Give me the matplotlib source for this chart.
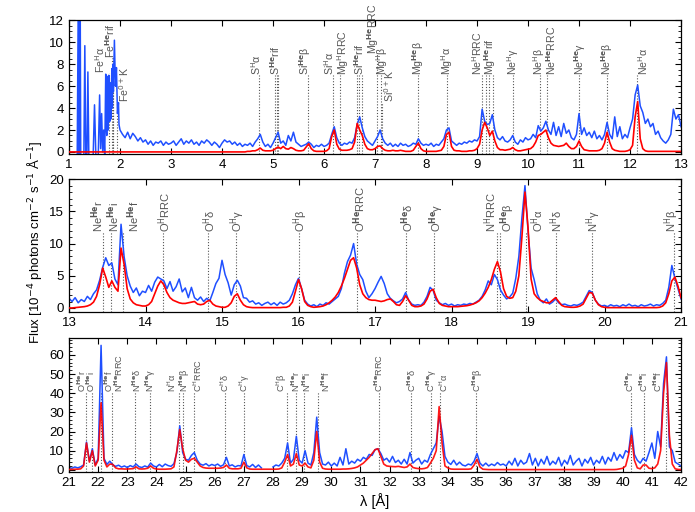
import numpy as np
import matplotlib
matplotlib.use('Agg')
import matplotlib.pyplot as plt
from matplotlib.ticker import MultipleLocator

plt.rcParams['font.family'] = ['Liberation Sans', 'DejaVu Sans']

# ---------------- panel 1 : 1 - 13 A ----------------
# Fe K region of the observed spectrum (irregular sampling)
fe_wave = [1.16, 1.18, 1.19, 1.21, 1.22, 1.23, 1.29, 1.31, 1.33, 1.35, 1.37, 1.39,
           1.47, 1.50, 1.53, 1.57, 1.60, 1.62, 1.64, 1.66, 1.68, 1.70, 1.72, 1.73,
           1.74, 1.76, 1.77, 1.78, 1.80, 1.81, 1.82, 1.84, 1.85, 1.86, 1.87, 1.89,
           1.91, 1.93, 1.95, 1.97, 1.98]
fe_flux = [-1, 13, -1, -1, 13, -1, -1, 9.7, -1, -1, 7.3, -1,
           -1, 4.3, -1, -1, 5.2, 0.3, 3.5, 0.0, 2.0, -0.5, 7.1, 2.5,
           1.5, 6.9, 2.0, 7.0, 2.8, 6.3, 3.0, 7.6, 4.0, 8.0, 5.5, 10.2,
           6.0, 7.7, 3.5, 4.5, 2.5]

# observed flux, 2.00 - 13.00 A every 0.05 A (one row per A)
obs1 = [
    2.0, 1.6, 1.3, 1.8, 1.2, 1.7, 1.4, 1.0, 1.3, 0.9, 1.1, 0.7, 1.0, 0.6, 0.9, 0.8, 1.0, 0.6, 0.9, 0.7,
    0.8, 1.0, 0.6, 0.9, 1.2, 0.7, 1.0, 0.8, 1.1, 0.7, 0.9, 0.6, 1.0, 0.8, 1.1, 0.9, 0.6, 0.9, 0.7, 0.4,
    0.8, 1.1, 0.9, 1.0, 0.7, 0.9, 0.6, 0.8, 0.5, 0.7, 0.6, 0.8, 0.5, 0.9, 1.2, 1.6, 0.9, 0.5, 0.7, 0.4,
    0.8, 1.3, 1.8, 0.8, 1.0, 0.6, 1.5, 1.0, 1.8, 0.9, 0.7, 0.5, 0.6, 0.7, 0.9, 0.7, 0.4, 0.6, 0.5, 0.7,
    0.5, 0.6, 0.8, 1.6, 2.3, 1.3, 0.8, 0.6, 0.8, 0.7, 0.9, 0.8, 1.3, 2.5, 3.2, 2.2, 1.4, 1.0, 0.8, 0.6,
    1.0, 1.4, 2.0, 1.2, 0.8, 0.6, 0.8, 0.5, 0.7, 0.5, 0.8, 0.6, 0.7, 0.5, 0.6, 0.8, 0.7, 1.2, 0.8, 0.6,
    0.7, 0.6, 0.8, 0.5, 0.7, 0.6, 0.9, 1.2, 2.0, 2.2, 1.0, 0.8, 0.6, 0.8, 0.7, 0.9, 0.8, 1.0, 0.9, 1.1,
    1.0, 1.4, 3.9, 2.8, 2.5, 2.6, 3.4, 2.0, 1.3, 1.1, 1.4, 1.0, 0.9, 1.1, 1.5, 0.9, 0.7, 1.1, 0.9, 1.3,
    1.1, 1.2, 1.6, 1.3, 2.4, 1.9, 2.2, 2.8, 2.0, 1.6, 2.7, 1.5, 2.3, 1.4, 2.6, 1.7, 2.0, 1.3, 1.1, 1.6,
    3.5, 1.6, 2.2, 1.5, 1.8, 1.3, 1.9, 1.2, 1.5, 1.1, 1.6, 2.7, 1.6, 1.2, 3.2, 1.4, 2.3, 1.2, 1.6, 1.3,
    2.2, 3.0, 5.2, 6.1, 4.2, 3.6, 2.6, 3.0, 2.3, 2.6, 1.6, 1.9, 1.3, 1.0, 0.8, 1.1, 1.6, 3.9, 3.0, 3.4,
    2.3]

# model, 1.00 - 13.00 A every 0.05 A
mod1 = [
    0, 0, 0, 0, 0, 0, 0, 0, 0, 0, 0, 0, 0, 0, 0, 0, 0, 0, 0, 0,
    0, 0, 0, 0, 0, 0, 0, 0, 0, 0, 0, 0, 0, 0, 0, 0, 0, 0, 0, 0,
    0, 0, 0, 0, 0, 0, 0, 0, 0, 0, 0, 0, 0, 0, 0, 0, 0, 0, 0, 0,
    0, 0, 0, 0, 0, 0, 0, 0, 0, 0, 0.05, 0.05, 0.1, 0.1, 0.2, 0.35, 0.15, 0.1, 0.1, 0.1,
    0.15, 0.3, 0.45, 0.3, 0.5, 0.3, 0.25, 0.4, 0.3, 0.15, 0.1, 0.1, 0.15, 0.45, 0.75, 0.3, 0.1, 0.05, 0.05, 0.05,
    0.05, 0.1, 0.3, 1.4, 2.0, 0.7, 0.25, 0.15, 0.15, 0.15, 0.2, 0.3, 0.9, 2.6, 2.0, 1.5, 0.7, 0.3, 0.2, 0.2,
    0.3, 0.5, 0.55, 0.3, 0.15, 0.1, 0.1, 0.15, 0.1, 0.1, 0.15, 0.1, 0.05, 0.05, 0.05, 0.15, 0.5, 0.8, 0.3, 0.1,
    0.05, 0.05, 0.05, 0.05, 0.05, 0.1, 0.15, 0.5, 1.6, 1.8, 0.5, 0.15, 0.1, 0.1, 0.05, 0.05, 0.05, 0.1, 0.1, 0.15,
    0.3, 0.7, 2.0, 2.7, 2.2, 1.5, 1.9, 1.0, 0.4, 0.2, 0.2, 0.15, 0.2, 0.25, 0.4, 0.2, 0.1, 0.1, 0.15, 0.2,
    0.25, 0.3, 0.5, 0.9, 1.5, 1.6, 1.8, 2.0, 1.3, 0.8, 0.6, 0.55, 0.5, 0.55, 0.6, 0.8, 0.5, 0.3, 0.3, 0.5,
    1.0, 0.5, 0.2, 0.15, 0.1, 0.1, 0.1, 0.1, 0.15, 0.3, 0.8, 1.8, 0.9, 0.3, 0.15, 0.1, 0.05, 0.05, 0.05, 0.1,
    0.2, 0.6, 3.2, 4.6, 1.2, 0.3, 0.1, 0.05, 0.05, 0.05, 0.05, 0.05, 0.05, 0.05, 0.05, 0.05, 0.05, 0.05, 0.05, 0.05,
    0.05]

# ---------------- panel 2 : 13 - 21 A, every 0.04 A ----------------
obs2 = [
    1.5, 1.0, 1.6, 0.8, 1.3, 1.0, 1.8, 1.3, 2.2, 2.8, 4.3, 6.3, 7.8, 6.6, 7.0, 4.5, 3.6, 13.0, 8.0, 5.0, 3.4, 2.4, 3.1, 1.9, 2.6,
    2.4, 3.5, 2.6, 4.0, 4.8, 4.5, 4.2, 3.0, 4.1, 2.6, 3.3, 4.5, 2.5, 3.1, 1.6, 3.2, 1.6, 1.2, 1.7, 1.0, 1.5, 1.1, 2.4, 3.8, 4.6,
    7.4, 5.2, 3.9, 2.0, 3.6, 4.3, 3.4, 1.6, 1.5, 0.9, 1.1, 0.6, 0.8, 0.4, 0.7, 0.9, 0.5, 0.8, 0.4, 0.9, 0.6, 0.8, 1.2, 2.2, 3.6,
    4.6, 3.0, 1.2, 0.6, 0.3, 0.5, 0.2, 0.6, 0.4, 0.8, 0.6, 1.0, 1.4, 1.8, 3.0, 5.4, 7.2, 8.2, 10.0, 6.8, 5.2, 4.4, 2.6, 1.6, 2.2,
    3.0, 4.0, 4.9, 3.8, 2.2, 1.5, 1.1, 0.8, 1.0, 1.4, 2.4, 1.2, 0.6, 0.4, 0.5, 0.4, 0.9, 1.8, 3.2, 2.7, 1.2, 0.8, 0.5, 0.7, 0.4,
    0.6, 0.3, 0.5, 0.4, 0.6, 0.5, 0.7, 0.6, 0.9, 1.2, 1.8, 2.8, 4.2, 3.6, 5.2, 4.4, 2.8, 2.0, 1.4, 1.7, 2.3, 4.6, 8.0, 14.0, 19.0,
    12.0, 6.2, 4.4, 2.2, 1.2, 0.8, 1.4, 0.6, 0.9, 1.4, 0.8, 0.5, 0.6, 0.4, 0.3, 0.5, 0.4, 0.6, 0.9, 1.8, 2.7, 2.4, 1.2, 0.6, 0.3,
    0.4, 0.2, 0.5, 0.3, 0.4, 0.2, 0.5, 0.3, 0.6, 0.3, 0.4, 0.2, 0.5, 0.3, 0.4, 0.6, 0.3, 0.5, 0.4, 0.7, 1.2, 3.2, 6.6, 4.6, 3.0,
    1.4]

mod2 = [
    0.0, 0.0, 0.05, 0.1, 0.15, 0.2, 0.3, 0.5, 0.9, 1.8, 3.6, 6.2, 4.8, 3.2, 4.2, 3.2, 2.6, 9.3, 6.8, 3.0, 1.4, 0.8, 0.5, 0.4, 0.3,
    0.3, 0.5, 1.0, 2.2, 3.4, 4.2, 3.6, 2.4, 1.6, 1.2, 1.0, 0.8, 0.7, 0.7, 0.8, 0.9, 1.0, 0.6, 0.5, 0.6, 1.0, 1.2, 0.6, 0.3, 0.2,
    0.1, 0.1, 0.3, 0.8, 1.8, 2.2, 1.2, 0.5, 0.2, 0.1, 0.05, 0.05, 0.05, 0.05, 0.05, 0.05, 0.05, 0.05, 0.05, 0.05, 0.1, 0.1, 0.3, 0.9, 2.6,
    4.4, 3.0, 1.0, 0.4, 0.2, 0.1, 0.15, 0.2, 0.3, 0.5, 0.8, 1.2, 1.7, 2.4, 3.4, 4.6, 6.0, 7.4, 7.8, 6.2, 3.6, 2.2, 1.6, 1.3, 1.2,
    1.2, 1.1, 1.0, 1.1, 1.3, 1.4, 1.0, 0.5, 0.4, 1.0, 1.9, 1.2, 0.4, 0.2, 0.2, 0.3, 0.6, 1.4, 2.6, 2.9, 1.6, 0.7, 0.4, 0.3, 0.2,
    0.2, 0.2, 0.2, 0.25, 0.3, 0.35, 0.45, 0.6, 0.8, 1.1, 1.6, 2.3, 3.2, 4.4, 6.0, 7.2, 5.6, 3.0, 1.8, 1.5, 1.6, 2.6, 5.0, 11.0, 18.0,
    12.5, 4.5, 2.2, 1.6, 1.2, 1.0, 0.8, 0.8, 1.2, 1.6, 1.0, 0.4, 0.2, 0.15, 0.1, 0.1, 0.15, 0.3, 0.6, 1.5, 2.4, 2.3, 1.2, 0.5, 0.2,
    0.1, 0.05, 0.05, 0.05, 0.05, 0.05, 0.05, 0.05, 0.05, 0.05, 0.05, 0.05, 0.05, 0.05, 0.05, 0.05, 0.05, 0.05, 0.1, 0.3, 0.8, 2.2, 4.2, 4.8, 3.4,
    1.6]

# ---------------- panel 3 : 21 - 42 A, every 0.1 A ----------------
nan = np.nan
obs3 = [
    1.2, 0.8, 1.5, 1.0, 1.6, 2.5, 14.5, 4.5, 11.0, 2.5,
    6.0, 65.0, 6.0, 2.8, 4.5, 2.6, 1.8, 2.4, 1.4, 2.0,
    1.2, 2.2, 1.5, 3.0, 1.6, 1.2, 2.0, 1.4, 3.5, 2.0,
    1.5, 2.8, 1.6, 3.0, 2.2, 1.8, 3.2, 9.0, 23.0, 9.0,
    5.5, 5.0, 7.5, 9.0, 5.0, 3.0, 2.4, 3.2, 2.0, 2.8,
    2.2, 3.0, 1.8, 2.6, 6.5, 2.0, 2.6, 1.5, 2.2, 2.0,
    8.0, 2.2, 1.5, 2.8, 1.2, 2.5, 1.0, nan, nan, nan,
    1.5, 2.5, 2.0, 3.5, 6.0, 14.0, 3.5, 5.5, 17.5, 5.0,
    3.5, 10.0, 3.5, 2.5, 9.0, 27.5, 9.0, 3.0, 2.5, 4.0,
    2.0, 3.5, 2.0, 6.5, 2.5, 11.0, 3.0, 4.5, 3.5, 5.5,
    4.5, 6.5, 5.5, 8.0, 7.5, 10.5, 11.0, 8.5, 5.0, 6.0,
    4.0, 7.0, 3.8, 5.0, 3.0, 5.5, 3.0, 9.0, 3.5, 5.0,
    6.0, 3.0, 5.0, 4.0, 8.0, 11.0, 14.0, 28.0, 20.0, 7.0,
    4.0, 2.8, 5.0, 2.5, 4.0, 2.5, 2.0, 3.0, 2.5, 4.5,
    8.5, 3.5, 2.0, 3.5, 2.0, 3.0, 2.2, 3.8, 2.5, 3.0,
    2.0, 4.5, 2.5, 6.0, 2.0, 5.0, 3.0, 4.0, 8.5, 2.5,
    6.0, 2.0, 5.5, 3.0, 7.0, 2.5, 4.5, 3.0, 6.5, 2.0,
    5.0, 3.0, 7.5, 2.5, 4.5, 6.0, 2.0, 5.5, 3.5, 6.5,
    2.5, 5.0, 3.5, 7.0, 3.0, 6.5, 4.5, 9.0, 5.0, 8.0,
    6.0, 10.0, 9.0, 22.0, 8.0, 5.0, 3.5, 6.0, 4.5, 9.0,
    14.0, 6.0, 20.0, 12.0, 45.0, 59.0, 12.0, 10.0, 4.0, 3.0,
    2.0]

mod3 = [
    0.2, 0.2, 0.3, 0.3, 0.5, 2.0, 14.0, 4.0, 10.0, 2.0,
    5.0, 35.0, 5.0, 1.5, 3.0, 2.8, 1.0, 0.5, 0.5, 0.4,
    0.4, 0.5, 0.6, 1.5, 0.5, 0.4, 0.5, 0.8, 2.0, 0.8,
    0.4, 0.3, 0.3, 0.3, 0.4, 0.5, 1.5, 10.0, 21.0, 11.0,
    5.0, 4.0, 5.5, 6.0, 4.0, 2.0, 1.2, 0.9, 0.8, 0.8,
    0.8, 0.8, 0.9, 1.2, 2.5, 0.8, 0.5, 0.5, 0.5, 0.8,
    4.0, 1.0, 0.4, 0.3, 0.3, 0.3, 0.3, 0.3, 0.3, 0.3,
    0.3, 0.3, 0.4, 1.0, 4.0, 8.0, 2.0, 3.0, 8.5, 2.5,
    2.0, 3.5, 1.5, 1.0, 5.0, 20.0, 4.0, 0.8, 0.4, 0.3,
    0.3, 0.3, 0.3, 0.3, 0.4, 0.4, 0.5, 0.7, 1.0, 1.5,
    2.5, 3.5, 5.0, 6.5, 8.5, 10.5, 11.0, 7.0, 3.0, 2.0,
    1.8, 1.7, 1.6, 1.8, 1.5, 1.2, 1.5, 3.0, 1.2, 0.8,
    0.6, 0.5, 0.7, 1.2, 3.5, 6.0, 10.0, 33.0, 14.0, 2.0,
    1.0, 0.4, 0.3, 0.3, 0.3, 0.3, 0.3, 0.3, 0.5, 2.5,
    5.5, 1.5, 0.3, 0.2, 0.1, 0.1, 0.1, 0.1, 0.1, 0.1,
    0.1, 0.1, 0.1, 0.1, 0.1, 0.1, 0.1, 0.1, 0.1, 0.1,
    0.1, 0.1, 0.1, 0.1, 0.1, 0.1, 0.1, 0.1, 0.1, 0.1,
    0.1, 0.1, 0.1, 0.1, 0.1, 0.1, 0.1, 0.1, 0.1, 0.1,
    0.1, 0.1, 0.1, 0.1, 0.1, 0.1, 0.1, 0.1, 0.2, 0.5,
    0.8, 2.0, 8.0, 18.0, 5.0, 1.0, 0.5, 2.5, 2.5, 0.8,
    0.6, 1.0, 3.0, 10.0, 40.0, 56.0, 18.0, 3.0, 0.5, 0.2,
    0.1]

# ---------------- line identifications ----------------
names1 = ['Fe$^{\\rm H}$α', 'Fe$^{\\bf He}$rif', 'Fe$^{0+}$K', 'S$^{\\rm H}$α', 'S$^{\\bf He}$rif',
          'Si$^{\\bf He}$β', 'Si$^{\\rm H}$α', 'Mg$^{\\rm H}$RRC', 'Si$^{\\bf He}$rif', 'Mg$^{\\bf He}$RRC',
          'Mg$^{\\rm H}$β', 'Si$^{0+}$K', 'Mg$^{\\bf He}$β', 'Mg$^{\\rm H}$α', 'Ne$^{\\rm H}$RRC',
          'Mg$^{\\bf He}$rif', 'Ne$^{\\rm H}$γ', 'Ne$^{\\rm H}$β', 'Ne$^{\\bf He}$RRC', 'Ne$^{\\bf He}$γ',
          'Ne$^{\\bf He}$β', 'Ne$^{\\rm H}$α']
labx1 = [1.61, 1.80, 2.08, 4.67, 5.04, 5.63, 6.10, 6.38, 6.69, 6.96, 7.13, 7.27,
         7.85, 8.41, 9.00, 9.26, 9.71, 10.21, 10.46, 11.02, 11.56, 12.26]
lines1 = [[1.78], [1.85, 1.86, 1.87], [1.94], [4.73], [5.04, 5.07, 5.10], [5.68], [6.18],
          [6.32], [6.65, 6.69, 6.74], [7.04], [7.11], [7.13], [7.85], [8.42], [9.10],
          [9.17, 9.23, 9.31], [9.71], [10.24], [10.37], [11.00], [11.55], [12.13]]
laby1 = [7.2, 8.6, 4.6, 7.0, 7.0, 7.0, 7.0, 7.0, 7.0, 8.9, 7.0, 4.6,
         7.0, 7.0, 7.0, 7.0, 7.0, 7.0, 7.0, 7.0, 7.0, 7.0]

names2 = ['Ne$^{\\bf He}$r', 'Ne$^{\\bf He}$i', 'Ne$^{\\bf He}$f', 'O$^{\\rm H}$RRC', 'O$^{\\rm H}$δ',
          'O$^{\\rm H}$γ', 'O$^{\\rm H}$β', 'O$^{\\bf He}$RRC', 'O$^{\\bf He}$δ', 'O$^{\\bf He}$γ',
          'N$^{\\rm H}$RRC', 'O$^{\\bf He}$β', 'O$^{\\rm H}$α', 'N$^{\\rm H}$δ', 'N$^{\\rm H}$γ', 'N$^{\\rm H}$β']
labx2 = [13.37, 13.58, 13.85, 14.25, 14.84, 15.20, 16.03, 16.80, 17.43, 17.80,
         18.51, 18.74, 19.13, 19.37, 19.86, 20.88]
lines2 = [13.45, 13.55, 13.70, 14.23, 14.82, 15.18, 16.01, 16.77, 17.40, 17.77,
          18.59, 18.63, 18.97, 19.36, 19.83, 20.91]
laby2 = [11.8] * len(names2)

names3 = ['O$^{\\bf He}$r', 'O$^{\\bf He}$i', 'O$^{\\bf He}$f', 'N$^{\\bf He}$RRC', 'N$^{\\bf He}$δ',
          'N$^{\\bf He}$γ', 'N$^{\\rm H}$α', 'N$^{\\bf He}$β', 'C$^{\\rm H}$RRC', 'C$^{\\rm H}$δ',
          'C$^{\\rm H}$γ', 'C$^{\\rm H}$β', 'N$^{\\bf He}$r', 'N$^{\\bf He}$i', 'N$^{\\bf He}$f',
          'C$^{\\bf He}$RRC', 'C$^{\\bf He}$δ', 'C$^{\\bf He}$γ', 'C$^{\\rm H}$α', 'C$^{\\bf He}$β',
          'C$^{\\bf He}$r', 'C$^{\\bf He}$i', 'C$^{\\bf He}$f']
labx3 = [21.43, 21.76, 22.38, 22.72, 23.31, 23.81, 24.51, 24.96, 25.42, 26.36, 27.02, 28.30,
         28.78, 29.15, 29.81, 31.64, 32.75, 33.44, 33.86, 35.02, 40.25, 40.73, 41.20]
lines3 = [21.60, 21.80, 22.10, 22.46, 23.28, 23.77, 24.78, 24.90, 25.30, 26.36, 26.99, 28.47,
          28.79, 29.08, 29.53, 31.63, 32.75, 33.43, 33.74, 34.97, 40.27, 40.73, 41.47]
laby3 = [40.8] * len(names3)

# ---------------- plotting ----------------
blue = '#1f4fff'
red = '#ff0000'
grey = '#555555'

fig = plt.figure(figsize=(6.95, 5.12), dpi=100)
ax1 = fig.add_axes([0.0993, 0.699, 0.8806, 0.261])
ax2 = fig.add_axes([0.0993, 0.391, 0.8806, 0.259])
ax3 = fig.add_axes([0.0993, 0.0787, 0.8806, 0.2606])


def label_lines(ax, names, labx, lines, laby, ymin, size):
    for name, lx, ll, ly in zip(names, labx, lines, laby):
        ax.vlines(ll, ymin, ly, colors=grey, linestyles=(0, (1, 1.6)), linewidth=0.8, zorder=1)
        ax.text(lx, ly, name, rotation=90, ha='center', va='bottom',
                fontsize=size, color=grey, zorder=5)


def style(ax, xlim, ylim, ymajor, yminor):
    ax.set_xlim(*xlim)
    ax.set_ylim(*ylim)
    ax.xaxis.set_major_locator(MultipleLocator(1))
    ax.yaxis.set_major_locator(MultipleLocator(ymajor))
    ax.yaxis.set_minor_locator(MultipleLocator(yminor))
    ax.tick_params(which='both', direction='in', top=True, right=True, labelsize=9.5)
    ax.tick_params(which='major', length=4.5, width=0.8)
    ax.tick_params(which='minor', length=2.5, width=0.6)
    for sp in ax.spines.values():
        sp.set_linewidth(0.9)


# panel 1
w1 = np.concatenate([fe_wave, np.linspace(2.0, 13.0, len(obs1))])
f1 = np.concatenate([fe_flux, obs1])
ax1.plot(w1, f1, color=blue, lw=1.1, zorder=2)
ax1.plot(np.linspace(1.0, 13.0, len(mod1)), mod1, color=red, lw=1.2, zorder=3)
style(ax1, (1, 13), (-0.2, 12.0), 2, 0.5)
label_lines(ax1, names1, labx1, lines1, laby1, -0.2, 7.6)

# panel 2
ax2.plot(np.linspace(13.0, 21.0, len(obs2)), obs2, color=blue, lw=1.1, zorder=2)
ax2.plot(np.linspace(13.0, 21.0, len(mod2)), mod2, color=red, lw=1.2, zorder=3)
style(ax2, (13, 21), (-0.6, 20.0), 5, 1)
label_lines(ax2, names2, labx2, lines2, laby2, -0.6, 8.0)

# panel 3
ax3.plot(np.linspace(21.0, 42.0, len(obs3)), obs3, color=blue, lw=1.1, zorder=2)
ax3.plot(np.linspace(21.0, 42.0, len(mod3)), mod3, color=red, lw=1.2, alpha=0.9, zorder=3)
style(ax3, (21, 42), (-1.0, 68.7), 10, 2)
label_lines(ax3, names3, labx3, lines3, laby3, -1.0, 6.6)
ax3.set_xlabel('λ [Å]', fontsize=10.5, labelpad=3)

fig.text(0.05, 0.527, 'Flux [10$^{-4}$ photons cm$^{-2}$ s$^{-1}$ Å$^{-1}$]',
         rotation=90, ha='center', va='center', fontsize=9.5)

fig.savefig('out.png', dpi=100)
